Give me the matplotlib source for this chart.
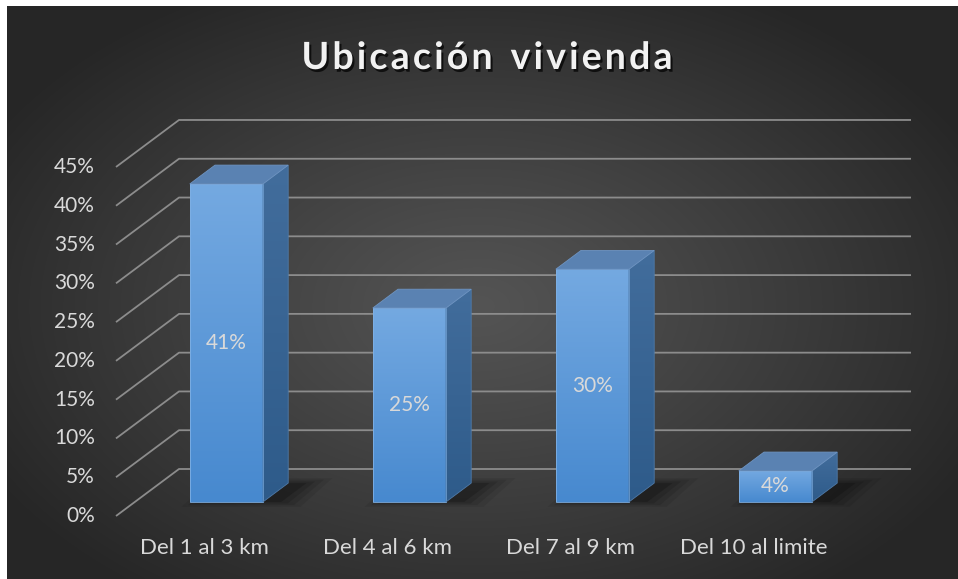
import numpy as np
import matplotlib
matplotlib.use('Agg')
import matplotlib.pyplot as plt
from matplotlib.patches import Polygon
import matplotlib.patheffects as pe

categories = ['Del 1 al 3 km', 'Del 4 al 6 km', 'Del 7 al 9 km', 'Del 10 al limite']
values = [41, 25, 30, 4]
y_ticks = [0, 5, 10, 15, 20, 25, 30, 35, 40, 45]
title = 'Ubicación vivienda'

# oblique "3D" projection: depth 0 = front plane, depth 1 = back wall
DX = 63 / 183      # category units per unit of depth
DY = 47 / 7.756    # percent units per unit of depth
BAR_W = 0.4
D_FRONT, D_BACK = 0.3, 0.7


def proj(x, v, d):
    return x + d * DX, v + d * DY


fig = plt.figure(figsize=(9.58, 5.79), dpi=100, facecolor='white')

# radial gradient background
bg = fig.add_axes([7 / 958, 0, 951 / 958, 573 / 579])
bg.set_axis_off()
h, w = 573, 951
yy, xx = np.mgrid[0:h, 0:w]
r = np.sqrt(((xx - 470) / 560) ** 2 + ((yy - 300) / 360) ** 2)
shade = 84 - 46 * np.clip(r, 0, 1) ** 1.1
bg.imshow(np.dstack([shade] * 3) / 255, aspect='auto', interpolation='bilinear')

ax = fig.add_axes([0, 0, 1, 1])
ax.patch.set_alpha(0)
ax.set_axis_off()

grid_c = '#8c8c8c'
txt_c = '#d9d9d9'
font = 'Lato'

# gridlines: diagonal on the side wall, horizontal on the back wall
for v in y_ticks:
    x0, y0 = proj(-0.5, v, 0)
    x1, y1 = proj(-0.5, v, 1)
    x2, y2 = proj(len(categories) - 0.5, v, 1)
    ax.plot([x0, x1, x2], [y0, y1, y2], color=grid_c, lw=1.3, zorder=1,
            solid_capstyle='butt')
    ax.annotate(f'{v}%', xy=(-0.5, v), xytext=(-21, 0), textcoords='offset pixels',
                ha='right', va='center', color=txt_c, fontsize=15, family=font)

grad = np.linspace(0, 1, 100)[:, None, None]
for i, (cat, v) in enumerate(zip(categories, values)):
    xl, xr = i - BAR_W / 2, i + BAR_W / 2

    # soft shadow on the floor
    for k, a in enumerate([0.08, 0.10, 0.13, 0.18]):
        g = (3 - k) * 0.035
        sx = 0.06
        pts = [proj(xl + sx - g, -g * 6, D_FRONT), proj(xr + sx + g + 0.04, -g * 6, D_FRONT),
               proj(xr + sx + g + 0.04, 0, D_BACK + g), proj(xl + sx - g, 0, D_BACK + g)]
        ax.add_patch(Polygon(pts, closed=True, fc='black', ec='none', alpha=a, zorder=2))

    # front face with vertical gradient
    fx0, fy0 = proj(xl, 0, D_FRONT)
    fx1, fy1 = proj(xr, v, D_FRONT)
    front = Polygon([(fx0, fy0), (fx1, fy0), (fx1, fy1), (fx0, fy1)], closed=True,
                    fc='none', ec='#7fb0e4', lw=0.6, zorder=5)
    ax.add_patch(front)
    top_c = np.array([0x74, 0xa9, 0xe1]) / 255
    bot_c = np.array([0x47, 0x89, 0xcf]) / 255
    img = top_c * (1 - grad) + bot_c * grad
    im = ax.imshow(img, extent=[fx0, fx1, fy0, fy1], origin='upper', aspect='auto',
                   zorder=4, interpolation='bilinear')
    im.set_clip_path(front)

    # right side face
    side = [proj(xr, 0, D_FRONT), proj(xr, 0, D_BACK), proj(xr, v, D_BACK), proj(xr, v, D_FRONT)]
    sp = Polygon(side, closed=True, fc='none', ec='#4f7aa8', lw=0.6, zorder=5)
    ax.add_patch(sp)
    s_img = (np.array([0x42, 0x6d, 0x9c]) / 255) * (1 - grad) + \
            (np.array([0x2e, 0x5b, 0x8a]) / 255) * grad
    sx0, _ = proj(xr, 0, D_FRONT)
    sx1, _ = proj(xr, 0, D_BACK)
    _, sy1 = proj(xr, v, D_BACK)
    sim = ax.imshow(s_img, extent=[sx0, sx1, fy0, sy1], origin='upper', aspect='auto',
                    zorder=4, interpolation='bilinear')
    sim.set_clip_path(sp)

    # top face
    top = [proj(xl, v, D_FRONT), proj(xr, v, D_FRONT), proj(xr, v, D_BACK), proj(xl, v, D_BACK)]
    ax.add_patch(Polygon(top, closed=True, fc='#5a82b2', ec='#6e94c2', lw=0.6, zorder=5))

    # value label in the middle of the front face
    lx, ly = proj(i, v / 2, D_FRONT)
    ax.text(lx, ly, f'{v}%', ha='center', va='center', color=txt_c, fontsize=15,
            family=font, zorder=6)

    # category label under the front plane
    ax.annotate(cat, xy=(i, 0), xytext=(-3, -32), textcoords='offset pixels',
                ha='center', va='center', color=txt_c, fontsize=16, family=font)

ax.set_xlim(-0.5 - 116 / 183, -0.5 + 842 / 183)
ax.set_ylim(-63 / 7.756, 516 / 7.756)

# title with letter spacing, placed character by character
renderer = fig.canvas.get_renderer()
t_kw = dict(color='#f2f2f2', fontsize=27, fontweight='bold', family=font, va='baseline',
            path_effects=[pe.withSimplePatchShadow(offset=(1.5, -2), shadow_rgbFace='black', alpha=0.7)])
spacing = 3.2
widths = []
for ch in title:
    t = fig.text(0, 0, ch if ch != ' ' else 'n', **t_kw)
    widths.append(t.get_window_extent(renderer).width * (0.55 if ch == ' ' else 1))
    t.remove()
total = sum(widths) + spacing * (len(title) - 1)
x = (958 - total) / 2 + 8
for ch, wch in zip(title, widths):
    if ch != ' ':
        fig.text(x / 958, 1 - 69 / 579, ch, ha='left', **t_kw)
    x += wch + spacing

fig.savefig('out.png', dpi=100, facecolor='white')
